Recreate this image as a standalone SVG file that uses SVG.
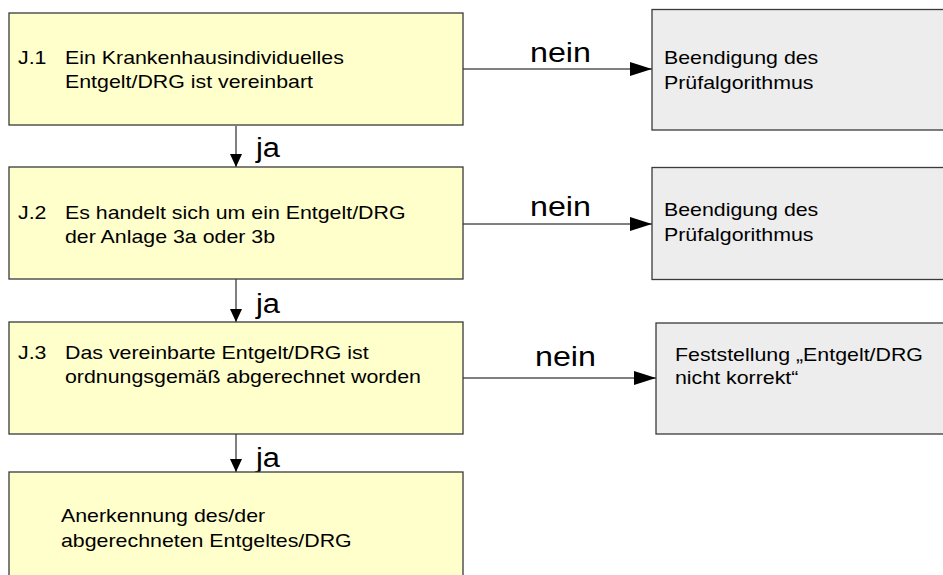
<svg xmlns="http://www.w3.org/2000/svg" width="943" height="575" viewBox="0 0 943 575">
<style>
.yb{fill:#FFFFCC;stroke:#3a3a3a;stroke-width:1.3}
.gb{fill:#EDEDED;stroke:#3a3a3a;stroke-width:1.3}
.t{font-family:"Liberation Sans",Arial,sans-serif;font-size:17.5px;fill:#000}
.lb{font-family:"Liberation Sans",Arial,sans-serif;font-size:28px;fill:#000}
.c{stroke:#000;stroke-width:1;fill:none}
</style>
<defs>
<marker id="ah" markerUnits="userSpaceOnUse" markerWidth="22" markerHeight="14" refX="22" refY="7" orient="auto">
<path d="M0,0 L22,7 L0,14 Z" fill="#000"/>
</marker>
<marker id="av" markerUnits="userSpaceOnUse" markerWidth="13" markerHeight="12" refX="13" refY="6" orient="auto">
<path d="M0,0 L13,6 L0,12 Z" fill="#000"/>
</marker>
</defs>
<g id="connectors">
<line class="c" x1="236" y1="126" x2="236" y2="167" marker-end="url(#av)"/>
<line class="c" x1="236" y1="279" x2="236" y2="322" marker-end="url(#av)"/>
<line class="c" x1="236" y1="434" x2="236" y2="472" marker-end="url(#av)"/>
<line class="c" x1="463" y1="69" x2="652" y2="69" marker-end="url(#ah)"/>
<line class="c" x1="463" y1="224" x2="652" y2="224" marker-end="url(#ah)"/>
<line class="c" x1="463" y1="378" x2="656" y2="378" marker-end="url(#ah)"/>
<text class="lb" transform="translate(256 157) scale(1.1 1)">ja</text>
<text class="lb" transform="translate(256 313) scale(1.1 1)">ja</text>
<text class="lb" transform="translate(256 467) scale(1.1 1)">ja</text>
<text class="lb" transform="translate(530 62) scale(1.15 1)">nein</text>
<text class="lb" transform="translate(530 216) scale(1.15 1)">nein</text>
<text class="lb" transform="translate(535 366) scale(1.15 1)">nein</text>
</g>
<g id="j1">
<rect class="yb" x="9" y="13" width="454" height="112"/>
<text class="t" transform="translate(18 64) scale(1.22 1)">J.1</text>
<text class="t" transform="translate(65 64) scale(1.22 1)"><tspan x="0" y="0">Ein Krankenhausindividuelles</tspan><tspan x="0" y="24">Entgelt/DRG ist vereinbart</tspan></text>
</g>
<g id="e1">
<rect class="gb" x="652" y="9.5" width="300" height="120.5"/>
<text class="t" transform="translate(664 63.5) scale(1.22 1)"><tspan x="0" y="0">Beendigung des</tspan><tspan x="0" y="25.5">Prüfalgorithmus</tspan></text>
</g>
<g id="j2">
<rect class="yb" x="9" y="167" width="454" height="112"/>
<text class="t" transform="translate(18 219) scale(1.22 1)">J.2</text>
<text class="t" transform="translate(65 219) scale(1.22 1)"><tspan x="0" y="0">Es handelt sich um ein Entgelt/DRG</tspan><tspan x="0" y="24">der Anlage 3a oder 3b</tspan></text>
</g>
<g id="e2">
<rect class="gb" x="652" y="167.5" width="300" height="112"/>
<text class="t" transform="translate(664 216) scale(1.22 1)"><tspan x="0" y="0">Beendigung des</tspan><tspan x="0" y="25.5">Prüfalgorithmus</tspan></text>
</g>
<g id="j3">
<rect class="yb" x="9" y="322" width="454" height="112"/>
<text class="t" transform="translate(18 359) scale(1.22 1)">J.3</text>
<text class="t" transform="translate(65 359) scale(1.22 1)"><tspan x="0" y="0">Das vereinbarte Entgelt/DRG ist</tspan><tspan x="0" y="24">ordnungsgemäß abgerechnet worden</tspan></text>
</g>
<g id="e3">
<rect class="gb" x="656" y="323" width="300" height="111"/>
<text class="t" transform="translate(675 360.5) scale(1.22 1)"><tspan x="0" y="0">Feststellung „Entgelt/DRG</tspan><tspan x="0" y="23.5">nicht korrekt“</tspan></text>
</g>
<g id="result">
<rect class="yb" x="9" y="472" width="454" height="120"/>
<text class="t" transform="translate(61 522) scale(1.22 1)"><tspan x="0" y="0">Anerkennung des/der</tspan><tspan x="0" y="25">abgerechneten Entgeltes/DRG</tspan></text>
</g>
</svg>
